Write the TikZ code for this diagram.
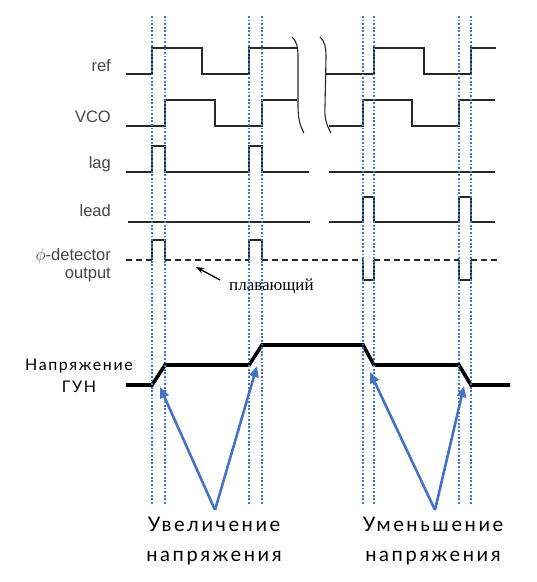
\documentclass[tikz,border=0pt]{standalone}
\usepackage{fontspec}
\setmainfont{Liberation Sans}
\newfontfamily\serifru{Liberation Serif}
\newfontfamily\geofont{Lato}[LetterSpace=10]
\newfontfamily\geowide{Lato}[LetterSpace=13]
\usepackage{xcolor}
\usetikzlibrary{positioning, arrows.meta}

\definecolor{guideblue}{RGB}{68,114,196}
\definecolor{sigdark}{RGB}{40,40,40}
\definecolor{lblgray}{RGB}{70,70,70}

\begin{document}
\begin{tikzpicture}[
  x=1pt, y=-1pt,
  wave/.style={line width=1.8pt, sigdark, line join=miter},
  floatwave/.style={wave, dash pattern=on 6pt off 4pt},
  vcoline/.style={line width=3.6pt, black, line join=miter},
  guideline/.style={guideblue, line width=1.6pt, dash pattern=on 1.8pt off 1.8pt},
  breakmark/.style={line width=1.1pt, sigdark},
  siglabel/.style={anchor=base east, inner sep=0pt, text=lblgray, font=\fontsize{16.5}{19}\selectfont},
  voltlabel/.style={align=center, inner sep=0pt, font=\geofont\fontsize{16}{22}\selectfont},
  notelabel/.style={align=center, inner sep=0pt, anchor=north, font=\geowide\fontsize{20}{30}\selectfont},
  bluearrow/.style={-{Triangle[length=11pt, width=9pt]}, guideblue, line width=2.6pt},
  smallarrow/.style={-{Stealth[length=8pt, width=6pt]}, line width=1.3pt, black}
]
\useasboundingbox (0,0) rectangle (537,582);

% ==================== LABELS ====================
\node[siglabel] (lref)  at (111,71)  {ref};
\node[siglabel] (lvco)  at (111,122) {VCO};
\node[siglabel] (llag)  at (111,168) {lag};
\node[siglabel] (llead) at (111,216) {lead};
\node[siglabel] (lphi)  at (111,260) {$\phi$-detector};
\node[siglabel] (lout)  at (111,278) {output};

\node[voltlabel] (lvolt) at (79,376) {Напряжение\\ГУН};

% ==================== WAVEFORMS ====================
% ref
\draw[wave] (126,74) -- (152,74) -- (152,48) -- (202,48) -- (202,74) -- (249,74) -- (249,48) -- (298,48);
\draw[wave] (326,74) -- (374,74) -- (374,48) -- (424,48) -- (424,74) -- (471,74) -- (471,48) -- (496,48);

% VCO
\draw[wave] (126,126) -- (165,126) -- (165,100) -- (215,100) -- (215,126) -- (262,126) -- (262,100) -- (297,100);
\draw[wave] (329,126) -- (363,126) -- (363,100) -- (412,100) -- (412,126) -- (459,126) -- (459,100) -- (495,100);

% break marks
\draw[breakmark] (292,37) .. controls (297,41) and (298,48) .. (298,58) -- (298,106) .. controls (298,118) and (300,126) .. (304,133);
\draw[breakmark] (320,37) .. controls (325,41) and (326,48) .. (326,58) -- (325,106) .. controls (324,118) and (327,126) .. (331,133);

% lag
\draw[wave] (126,172) -- (152,172) -- (152,146) -- (165,146) -- (165,172) -- (249,172) -- (249,146) -- (262,146) -- (262,172) -- (309,172);
\draw[wave] (329,172) -- (495,172);

% lead
\draw[wave] (128,222) -- (310,222);
\draw[wave] (329,222) -- (363,222) -- (363,197) -- (374,197) -- (374,222) -- (459,222) -- (459,197) -- (471,197) -- (471,222) -- (495,222);

% phase detector output
\draw[floatwave] (126,260) -- (152,260);
\draw[wave] (152,260) -- (152,240) -- (165,240) -- (165,260);
\draw[floatwave] (165,260) -- (249,260);
\draw[wave] (249,260) -- (249,240) -- (262,240) -- (262,260);
\draw[floatwave] (262,260) -- (363,260);
\draw[wave] (363,260) -- (363,280) -- (374,280) -- (374,260);
\draw[floatwave] (374,260) -- (459,260);
\draw[wave] (459,260) -- (459,280) -- (471,280) -- (471,260);
\draw[floatwave] (471,260) -- (498,260);

\node[anchor=base west, inner sep=0pt, font=\serifru\fontsize{17}{20}\selectfont] (floating) at (229,290) {плавающий};
\coordinate (floattail) at (220,280);
\coordinate (floattip) at (196,267);
\draw[smallarrow] (floattail) -- (floattip);

% VCO voltage
\draw[vcoline] (126,385) -- (152,385) -- (165,365) -- (249,365) -- (262,345) -- (363,345) -- (374,365) -- (459,365) -- (471,385) -- (510,385);

% ==================== GUIDES ====================
\foreach \x in {152,165,249,262,363,374,459,471}
  \draw[guideline] (\x,16) -- (\x,505);

% ==================== ANNOTATIONS ====================
\coordinate (incr) at (215,510);
\coordinate (decr) at (435,510);
\coordinate (incrA) at (160,387);
\coordinate (incrB) at (257,366);
\coordinate (decrA) at (370,372);
\coordinate (decrB) at (464,386);

\draw[bluearrow] (incr) -- (incrA);
\draw[bluearrow] (incr) -- (incrB);
\draw[bluearrow] (decr) -- (decrA);
\draw[bluearrow] (decr) -- (decrB);

\node[notelabel] (incrtext) at (214,517) {Увеличение\\напряжения};
\node[notelabel] (decrtext) at (433,517) {Уменьшение\\напряжения};

\end{tikzpicture}
\end{document}
